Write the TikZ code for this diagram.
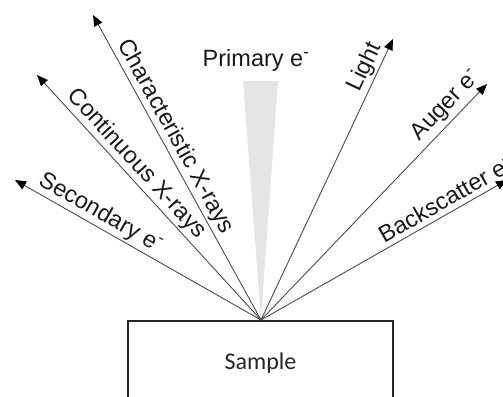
\documentclass[tikz,border=0pt]{standalone}
\usepackage{fontspec}
\setmainfont{Liberation Sans}
\newfontfamily\samplefont{Carlito}
\usetikzlibrary{arrows.meta}
\begin{document}
\begin{tikzpicture}[x=1pt,y=-1pt,
  ray/.style={draw=black!70, line width=0.9pt,
    -{Triangle[length=11pt,width=9pt,color=black]}},
  raylabel/.style={sloped, above, inner sep=2pt, font=\fontsize{23.5}{26}\selectfont, text=black!90},
  beam/.style={fill=black!10, draw=none},
  samplebox/.style={draw=black!85, line width=1.4pt, minimum width=265pt, minimum height=84pt,
    inner sep=0pt, font=\samplefont\fontsize{24}{28}\selectfont, text=black!85}]
  \useasboundingbox (0,0) rectangle (503,396);

  % incident beam
  \coordinate (apex) at (261,320);
  \fill[beam] (243,81) -- (278,81) -- (apex) -- cycle;
  \node[font=\fontsize{23.5}{26}\selectfont, text=black!90] (primary) at (256,60) {Primary e\textsuperscript{-}};

  % specimen block
  \node[samplebox] (sample) at (260.5,363) {Sample};

  % emitted signals
  \coordinate (secondary) at (15,180);
  \coordinate (continuous) at (37,75);
  \coordinate (characteristic) at (93,15);
  \coordinate (light) at (393,39);
  \coordinate (auger) at (487,84);
  \coordinate (backscatter) at (507,180);

  \draw[ray] (apex) -- (secondary) node[raylabel, pos=0.68] {Secondary e\textsuperscript{-}};
  \draw[ray] (apex) -- (continuous) node[raylabel, pos=0.60] {Continuous X-rays};
  \draw[ray] (apex) -- (characteristic) node[raylabel, pos=0.58] {Characteristic X-rays};
  \draw[ray] (apex) -- (light) node[raylabel, pos=0.88] {Light};
  \draw[ray] (apex) -- (auger) node[raylabel, pos=0.865, inner sep=4pt] {Auger e\textsuperscript{-}};
  \draw[ray] (apex) -- (backscatter) node[raylabel, pos=0.775, inner sep=5pt] {Backscatter e\textsuperscript{-}};
\end{tikzpicture}
\end{document}
